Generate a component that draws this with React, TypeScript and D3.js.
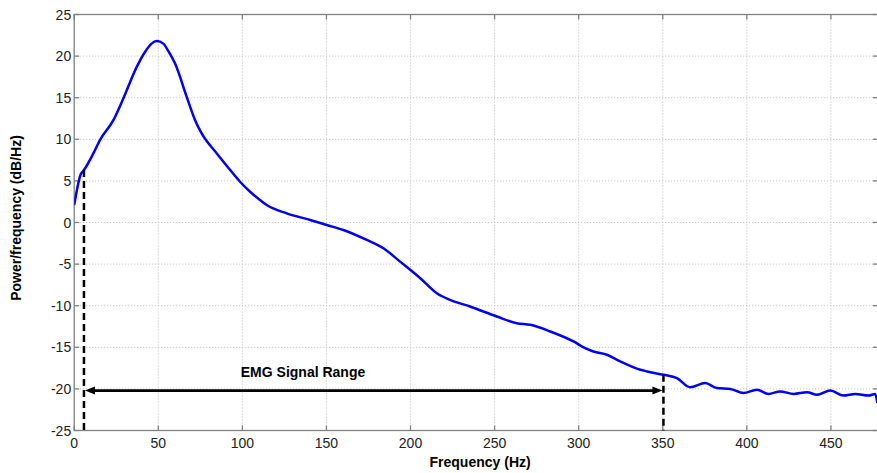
import React from "react";
import * as d3 from "d3";

const freq = [0, 3.9, 5.8, 11.4, 15.3, 23.3, 29.2, 37.2, 42.1, 46, 49.1, 53, 56, 60, 66.9, 71.9, 75.8, 84.8, 92, 98.6, 104.6, 110.5, 114.5, 126.4, 140.3, 150.2, 160.1, 174, 183.9, 193.8, 205.8, 215.6, 223.5, 235.4, 251.3, 263.2, 271.2, 283.1, 296.9, 302.9, 308.8, 316.8, 324.7, 336.6, 340.6, 350.4, 358.4, 366.3, 375.2, 382.2, 390.1, 398, 406, 412.9, 419.8, 427.8, 435.8, 441.7, 449.6, 457.5, 464.5, 472.4, 476.4, 477.6];
const power = [2.1, 5.8, 6.3, 8.3, 9.9, 12.3, 14.9, 18.7, 20.5, 21.5, 21.8, 21.5, 20.6, 19.1, 15.1, 12.3, 10.7, 8.3, 6.5, 4.9, 3.7, 2.7, 2.1, 1.1, 0.3, -0.3, -0.9, -2.1, -3.1, -4.7, -6.7, -8.5, -9.3, -10.1, -11.3, -12.1, -12.3, -13.1, -14.3, -15.0, -15.5, -15.9, -16.7, -17.7, -17.9, -18.3, -18.7, -19.8, -19.3, -19.9, -20.0, -20.5, -20.1, -20.6, -20.3, -20.6, -20.4, -20.7, -20.2, -20.8, -20.6, -20.8, -20.6, -21.7];

const xTicks = [0, 50, 100, 150, 200, 250, 300, 350, 400, 450];
const yTicks = [-25, -20, -15, -10, -5, 0, 5, 10, 15, 20, 25];

const rangeStart = 5.8;
const rangeEnd = 350.4;
const rangeStartTop = 6.3;
const rangeEndTop = -18.3;
const arrowLevel = -20.2;
const rangeLabel = "EMG Signal Range";

export default function App() {
  const W = 877, H = 473;
  const left = 74.2, right = 878, top = 14.5, bottom = 430.5;
  const x = d3.scaleLinear().domain([0, 478]).range([left, right]);
  const y = d3.scaleLinear().domain([-25, 25]).range([bottom, top]);
  const line = d3.line<number>().x((_, i) => x(freq[i])).y((d) => y(d)).curve(d3.curveMonotoneX);
  const font = "Arial, 'Liberation Sans', Helvetica, sans-serif";
  const ax = "#808080";
  const ay = y(arrowLevel);
  const x1 = x(rangeStart) + 1, x2 = x(rangeEnd) - 1;
  return (
    <svg width={W} height={H} style={{ position: "absolute", left: 0, top: 0, background: "#fff" }} fontFamily={font}>
      <defs>
        <clipPath id="pc"><rect x={left} y={top} width={right - left} height={bottom - top} /></clipPath>
      </defs>
      {xTicks.slice(1).map((t) => (
        <line key={"gx" + t} x1={x(t)} x2={x(t)} y1={top} y2={bottom} stroke="#bdbdbd" strokeWidth={1} strokeDasharray="1,2" />
      ))}
      {yTicks.slice(1, -1).map((t) => (
        <line key={"gy" + t} x1={left} x2={right} y1={y(t)} y2={y(t)} stroke="#bdbdbd" strokeWidth={1} strokeDasharray="1,2" />
      ))}
      <rect x={left} y={top} width={right - left} height={bottom - top} fill="none" stroke={ax} strokeWidth={1.3} />
      {xTicks.map((t) => (
        <g key={"tx" + t}>
          <line x1={x(t)} x2={x(t)} y1={bottom} y2={bottom - 5} stroke={ax} strokeWidth={1.3} />
          <line x1={x(t)} x2={x(t)} y1={top} y2={top + 5} stroke={ax} strokeWidth={1.3} />
          <text x={x(t)} y={bottom + 17} textAnchor="middle" fontSize={14} fill="#222">{t}</text>
        </g>
      ))}
      {yTicks.map((t) => (
        <g key={"ty" + t}>
          <line x1={left} x2={left + 5} y1={y(t)} y2={y(t)} stroke={ax} strokeWidth={1.3} />
          <line x1={right} x2={right - 5} y1={y(t)} y2={y(t)} stroke={ax} strokeWidth={1.3} />
          <text x={left - 3} y={y(t) + 5} textAnchor="end" fontSize={14} fill="#222">{t}</text>
        </g>
      ))}
      <path d={line(power) || ""} fill="none" stroke="#0000ee" strokeWidth={2.5} clipPath="url(#pc)" />
      <line x1={x(rangeStart)} x2={x(rangeStart)} y1={y(rangeStartTop)} y2={bottom} stroke="#000" strokeWidth={2.5} strokeDasharray="7,4" />
      <line x1={x(rangeEnd)} x2={x(rangeEnd)} y1={y(rangeEndTop)} y2={bottom} stroke="#000" strokeWidth={2.5} strokeDasharray="7,4" />
      <line x1={x1 + 6} x2={x2 - 6} y1={ay} y2={ay} stroke="#000" strokeWidth={2.8} />
      <path d={`M${x1},${ay} L${x1 + 10},${ay - 4} L${x1 + 10},${ay + 4} Z`} fill="#000" />
      <path d={`M${x2},${ay} L${x2 - 10},${ay - 4} L${x2 - 10},${ay + 4} Z`} fill="#000" />
      <text x={303} y={ay - 14} textAnchor="middle" fontSize={14} fontWeight="bold" fill="#000">{rangeLabel}</text>
      <text x={(left + right) / 2 + 4} y={467} textAnchor="middle" fontSize={14} fontWeight="bold" fill="#000">Frequency (Hz)</text>
      <text transform={`translate(21,218) rotate(-90)`} textAnchor="middle" fontSize={14} fontWeight="bold" fill="#000">Power/frequency (dB/Hz)</text>
    </svg>
  );
}
